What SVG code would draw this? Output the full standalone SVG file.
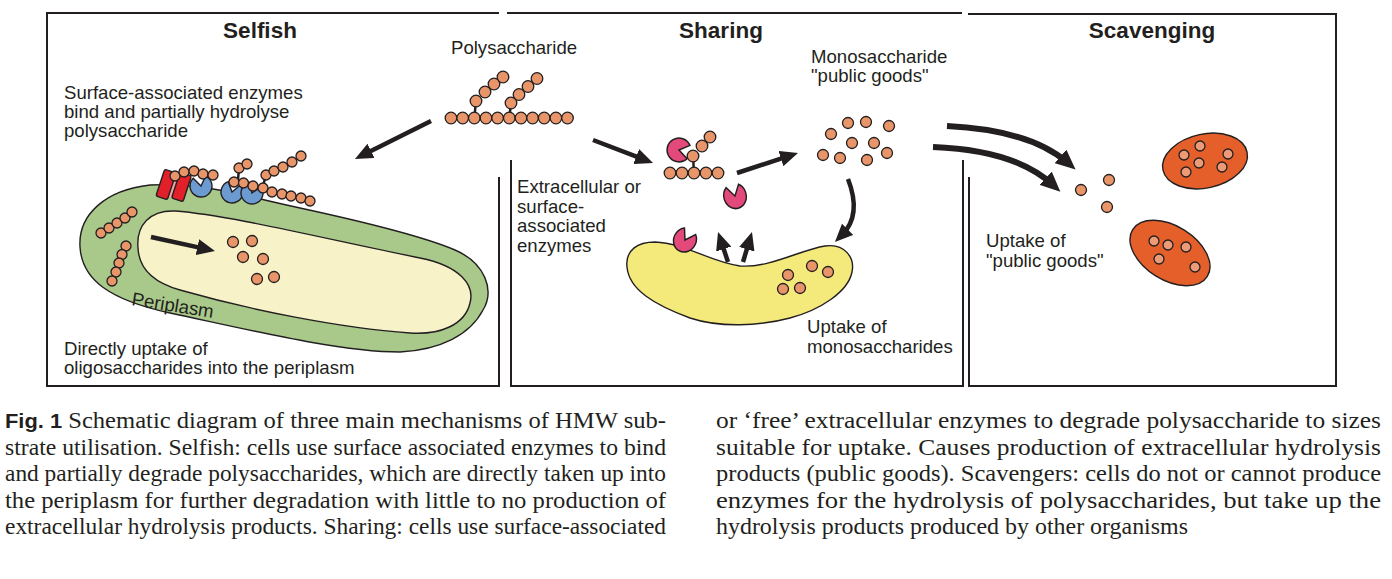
<svg xmlns="http://www.w3.org/2000/svg" xmlns:xlink="http://www.w3.org/1999/xlink" width="1392" height="579" viewBox="0 0 1392 579">
<style>
.t{font-family:"Liberation Sans",Arial,sans-serif;font-size:18.6px;fill:#231F20}
.h{font-family:"Liberation Sans",Arial,sans-serif;font-size:22.5px;font-weight:bold;fill:#231F20;text-anchor:middle}
.cap{font-family:"Liberation Serif","Times New Roman",serif;font-size:22.5px;fill:#231F20}
.fig{font-family:"Liberation Sans",Arial,sans-serif;font-weight:bold;font-size:20px}
.frame{fill:none;stroke:#231F20;stroke-width:2}
.b{fill:#E8956A;stroke:#231F20;stroke-width:1.3}
.bi{fill:#EC9B76;stroke:#231F20;stroke-width:1.3}
.stick{stroke:#231F20;stroke-width:2.5}
.ol{stroke:#231F20;stroke-width:1.4}
.blue{fill:#6C9BD2}
.pink{fill:#E4497B}
.arr{fill:none;stroke:#231F20;stroke-width:4.5;marker-end:url(#ah)}
.arrb{fill:none;stroke:#231F20;stroke-width:6;marker-end:url(#ahb)}
</style>
<defs>
<marker id="ah" markerUnits="userSpaceOnUse" markerWidth="18" markerHeight="16" viewBox="0 0 18 16" refX="8" refY="8" orient="auto"><path d="M0,0 L18,8 L0,16 Z" fill="#231F20"/></marker>
<marker id="ahb" markerUnits="userSpaceOnUse" markerWidth="20" markerHeight="18" viewBox="0 0 20 18" refX="10" refY="9" orient="auto"><path d="M0,0 L20,9 L0,18 Z" fill="#231F20"/></marker>
<path id="pm" d="M0,0 L9.01,6.31 A11,11 0 1 1 9.01,-6.31 Z" stroke="#231F20" stroke-width="1.4"/>
</defs>
<rect width="1392" height="579" fill="#FFFFFF"/>

<g id="frames">
<path class="frame" d="M499,177 V386 H47 V13 H499"/>
<path class="frame" d="M507,13 H962"/>
<path class="frame" d="M511,160 V386 H963 V160"/>
<path class="frame" d="M968,14 H1336 V386 H969 V177"/>
</g>

<g id="titles">
<text class="h" x="260" y="38">Selfish</text>
<text class="h" x="721" y="38">Sharing</text>
<text class="h" x="1152" y="38">Scavenging</text>
</g>

<g id="polysaccharide">
<line class="stick" x1="474.3" y1="118" x2="476" y2="101"/>
<line class="stick" x1="509.3" y1="118" x2="511" y2="103"/>
<circle class="b" cx="451" cy="118" r="5.8"/><circle class="b" cx="462.7" cy="118" r="5.8"/><circle class="b" cx="474.3" cy="118" r="5.8"/><circle class="b" cx="486" cy="118" r="5.8"/><circle class="b" cx="497.6" cy="118" r="5.8"/><circle class="b" cx="509.3" cy="118" r="5.8"/><circle class="b" cx="521" cy="118" r="5.8"/><circle class="b" cx="532.6" cy="118" r="5.8"/><circle class="b" cx="544.2" cy="118" r="5.8"/><circle class="b" cx="555.9" cy="118" r="5.8"/><circle class="b" cx="567.5" cy="118" r="5.8"/>
<circle class="b" cx="476" cy="101" r="5.8"/><circle class="b" cx="485" cy="92" r="5.8"/><circle class="b" cx="494" cy="84" r="5.8"/><circle class="b" cx="503" cy="77" r="5.8"/>
<circle class="b" cx="511" cy="103" r="5.8"/><circle class="b" cx="519" cy="94.5" r="5.8"/><circle class="b" cx="528" cy="86.5" r="5.8"/><circle class="b" cx="537" cy="78.5" r="5.8"/>
<text class="t" x="451" y="54">Polysaccharide</text>
</g>

<g id="selfish-cell">
<path class="ol" fill="#A9C98B" d="M80,247 C78,215 105,190 150,185 C200,182 240,195 300,208 C360,221 420,235 455,250 C485,263 495,290 483,310 C470,335 440,350 400,352 C340,352 250,330 170,313 C110,300 82,280 80,247 Z"/>
<path class="ol" fill="#F7F2C8" d="M138,248 C136,225 150,210 175,211 C230,215 330,240 420,258 C460,266 475,285 470,303 C465,325 440,335 410,333 C340,328 250,310 180,290 C155,283 139,270 138,248 Z"/>
<text class="t" transform="translate(131,305) rotate(9)">Periplasm</text>
<circle class="b" cx="101" cy="233" r="5"/><circle class="b" cx="109" cy="228" r="5"/><circle class="b" cx="117" cy="223" r="5"/><circle class="b" cx="125" cy="218" r="5"/><circle class="b" cx="132" cy="212" r="5"/>
<circle class="b" cx="126" cy="246" r="5"/><circle class="b" cx="122" cy="254.5" r="5"/><circle class="b" cx="119" cy="263" r="5"/><circle class="b" cx="116" cy="272" r="5"/><circle class="b" cx="112" cy="281" r="5"/>
<circle class="b" cx="233" cy="242" r="5.5"/><circle class="b" cx="252" cy="241" r="5.5"/><circle class="b" cx="243" cy="257" r="5.5"/><circle class="b" cx="263" cy="259" r="5.5"/><circle class="b" cx="257" cy="279" r="5.5"/><circle class="b" cx="274" cy="277" r="5.5"/>
</g>

<g id="selfish-enzymes">
<rect x="-3" y="-12" width="6" height="24" fill="#F4A3A3" transform="translate(174,186) rotate(18)"/>
<rect class="ol" x="-6" y="-14" width="12" height="28" rx="2" fill="#E2202A" transform="translate(166,184.5) rotate(18)"/>
<rect class="ol" x="-6" y="-13.5" width="12" height="27" rx="2" fill="#E2202A" transform="translate(181.5,187) rotate(18)"/>
<use href="#pm" class="blue" transform="translate(201,186) rotate(-100)"/>
<use href="#pm" class="blue" transform="translate(232,192) rotate(-75)"/>
<use href="#pm" class="blue" transform="translate(252,193) rotate(-70)"/>
<line class="stick" x1="238" y1="180" x2="239" y2="168"/>
<line class="stick" x1="263" y1="186" x2="266" y2="175"/>
<circle class="b" cx="175" cy="176" r="5"/><circle class="b" cx="184" cy="172" r="5"/><circle class="b" cx="194" cy="171" r="5"/><circle class="b" cx="203" cy="174" r="5"/><circle class="b" cx="213" cy="175" r="5"/>
<circle class="b" cx="234" cy="182" r="5"/><circle class="b" cx="243.5" cy="183" r="5"/><circle class="b" cx="253" cy="186" r="5"/><circle class="b" cx="263" cy="188" r="5"/><circle class="b" cx="272" cy="192" r="5"/><circle class="b" cx="282" cy="194" r="5"/><circle class="b" cx="291" cy="196" r="5"/><circle class="b" cx="301" cy="198" r="5"/><circle class="b" cx="310" cy="201" r="5"/>
<circle class="b" cx="239" cy="168" r="5"/><circle class="b" cx="247" cy="164" r="5"/>
<circle class="b" cx="266" cy="175" r="5"/><circle class="b" cx="274" cy="171" r="5"/><circle class="b" cx="283" cy="167" r="5"/><circle class="b" cx="292" cy="162" r="5"/><circle class="b" cx="301" cy="156" r="5"/>
</g>

<g id="selfish-labels">
<text class="t" x="64" y="99">Surface-associated enzymes</text>
<text class="t" x="64" y="118">bind and partially hydrolyse</text>
<text class="t" x="64" y="137">polysaccharide</text>
<text class="t" x="64" y="355">Directly uptake of</text>
<text class="t" x="64" y="374">oligosaccharides into the periplasm</text>
</g>

<g id="sharing-enzyme-complex">
<use href="#pm" class="pink" transform="translate(679,150) rotate(12) scale(1.08)"/>
<line class="stick" x1="694" y1="173" x2="693" y2="156"/>
<circle class="b" cx="670" cy="173" r="5.8"/><circle class="b" cx="682" cy="173" r="5.8"/><circle class="b" cx="694" cy="173" r="5.8"/><circle class="b" cx="706" cy="173" r="5.8"/><circle class="b" cx="718" cy="173" r="5.8"/>
<circle class="b" cx="693" cy="156" r="5.8"/><circle class="b" cx="702" cy="146" r="5.8"/><circle class="b" cx="710" cy="137" r="5.8"/>
</g>

<g id="free-enzyme">
<use href="#pm" class="pink" transform="translate(735,196) rotate(-105) scale(1.15,1.02)"/>
</g>

<g id="monosaccharides">
<circle class="b" cx="831" cy="134" r="5.5"/><circle class="b" cx="848" cy="123" r="5.5"/><circle class="b" cx="866" cy="122" r="5.5"/><circle class="b" cx="889" cy="126" r="5.5"/><circle class="b" cx="852" cy="143" r="5.5"/><circle class="b" cx="874" cy="143" r="5.5"/><circle class="b" cx="823" cy="155" r="5.5"/><circle class="b" cx="840" cy="158" r="5.5"/><circle class="b" cx="867" cy="160" r="5.5"/><circle class="b" cx="887" cy="153" r="5.5"/>
<text class="t" x="811" y="63">Monosaccharide</text>
<text class="t" x="811" y="82">"public goods"</text>
</g>

<g id="sharing-cell">
<path class="ol" fill="#F4EA7C" d="M627,267 C625,250 638,242 655,242 C685,243 710,262 740,266 C770,268 800,250 825,246 C845,243 855,258 852,272 C848,292 820,310 790,318 C760,326 720,328 690,318 C655,305 629,290 627,267 Z"/>
<use href="#pm" class="pink" transform="translate(685,240) rotate(-60) scale(1.12,1.02)"/>
<circle class="b" cx="788" cy="275" r="5.5"/><circle class="b" cx="812" cy="266" r="5.5"/><circle class="b" cx="828" cy="272" r="5.5"/><circle class="b" cx="783" cy="289" r="5.5"/><circle class="b" cx="800" cy="288" r="5.5"/>
</g>

<g id="sharing-labels">
<text class="t" x="517" y="193">Extracellular or</text>
<text class="t" x="517" y="213">surface-</text>
<text class="t" x="517" y="232">associated</text>
<text class="t" x="517" y="252">enzymes</text>
<text class="t" x="807" y="333">Uptake of</text>
<text class="t" x="807" y="353">monosaccharides</text>
</g>

<g id="scavenging">
<circle class="b" cx="1081" cy="190" r="5.5"/><circle class="b" cx="1109" cy="180" r="5.5"/><circle class="b" cx="1107" cy="207" r="5.5"/>
<g id="scavenger-cell-1">
<ellipse class="ol" cx="1205" cy="161" rx="43" ry="27" fill="#E55F2B" transform="rotate(-12 1205 161)"/>
<circle class="bi" cx="1184" cy="155" r="5"/><circle class="bi" cx="1200" cy="146" r="5"/><circle class="bi" cx="1199" cy="163" r="5"/><circle class="bi" cx="1228" cy="154" r="5"/><circle class="bi" cx="1186" cy="172" r="5"/><circle class="bi" cx="1222" cy="167" r="5"/>
</g>
<g id="scavenger-cell-2">
<ellipse class="ol" cx="1170" cy="253" rx="44" ry="27" fill="#E55F2B" transform="rotate(32 1170 253)"/>
<circle class="bi" cx="1154" cy="241" r="5"/><circle class="bi" cx="1168" cy="245" r="5"/><circle class="bi" cx="1186" cy="247" r="5"/><circle class="bi" cx="1159" cy="259" r="5"/><circle class="bi" cx="1195" cy="267" r="5"/>
</g>
<text class="t" x="986" y="247">Uptake of</text>
<text class="t" x="986" y="267">"public goods"</text>
</g>

<g id="connectors">
<line class="arr" x1="431" y1="121" x2="363.9" y2="154.5"/>
<line class="arr" x1="151" y1="237" x2="205.2" y2="248.9"/>
<line class="arr" x1="593" y1="140" x2="643.7" y2="159.4"/>
<line class="arr" x1="737" y1="173" x2="788.5" y2="156.1"/>
<path class="arr" d="M848,179 Q862,215 842,235"/>
<line class="arr" x1="728" y1="262" x2="721.2" y2="241.5"/>
<line class="arr" x1="743" y1="262" x2="749.1" y2="241.6"/>
<path class="arrb" d="M947,126 Q1030,130 1068,163"/>
<path class="arrb" d="M933,147 Q1015,150 1053,185"/>
</g>

<g id="caption">
<text class="cap" x="5" y="428" textLength="661" lengthAdjust="spacingAndGlyphs"><tspan class="fig">Fig. 1</tspan> Schematic diagram of three main mechanisms of HMW sub-</text>
<text class="cap" x="5" y="454.5" textLength="661" lengthAdjust="spacingAndGlyphs">strate utilisation. Selfish: cells use surface associated enzymes to bind</text>
<text class="cap" x="5" y="481" textLength="661" lengthAdjust="spacingAndGlyphs">and partially degrade polysaccharides, which are directly taken up into</text>
<text class="cap" x="5" y="507.5" textLength="661" lengthAdjust="spacingAndGlyphs">the periplasm for further degradation with little to no production of</text>
<text class="cap" x="5" y="534" textLength="661" lengthAdjust="spacingAndGlyphs">extracellular hydrolysis products. Sharing: cells use surface-associated</text>
<text class="cap" x="716" y="428" textLength="665" lengthAdjust="spacingAndGlyphs">or ‘free’ extracellular enzymes to degrade polysaccharide to sizes</text>
<text class="cap" x="716" y="454.5" textLength="665" lengthAdjust="spacingAndGlyphs">suitable for uptake. Causes production of extracellular hydrolysis</text>
<text class="cap" x="716" y="481" textLength="665" lengthAdjust="spacingAndGlyphs">products (public goods). Scavengers: cells do not or cannot produce</text>
<text class="cap" x="716" y="507.5" textLength="665" lengthAdjust="spacingAndGlyphs">enzymes for the hydrolysis of polysaccharides, but take up the</text>
<text class="cap" x="716" y="534" textLength="472" lengthAdjust="spacingAndGlyphs">hydrolysis products produced by other organisms</text>
</g>
</svg>
